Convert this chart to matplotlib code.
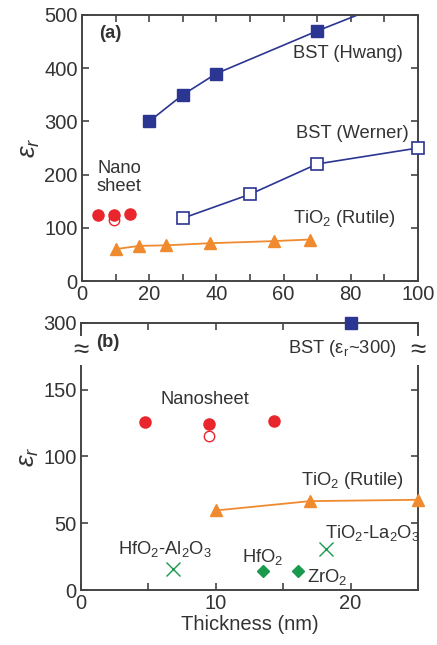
import matplotlib
matplotlib.use("Agg")
import matplotlib.pyplot as plt
from matplotlib.ticker import MultipleLocator, FixedLocator

plt.rcParams['font.family'] = ['Liberation Sans', 'DejaVu Sans']
plt.rcParams['mathtext.fontset'] = 'custom'
plt.rcParams['mathtext.rm'] = 'Liberation Sans'
plt.rcParams['mathtext.it'] = 'Liberation Sans:italic'

# ---- data: panel (a) ----
hwang_x = [20, 30, 40, 70, 100]
hwang_y = [300, 350, 390, 470, 545]
werner_x = [30, 50, 70, 100]
werner_y = [118, 163, 220, 250]
nano_x = [4.7, 9.5, 14.3]
nano_y = [125, 124, 126]
nano_open_x = [9.5]
nano_open_y = [115]
rutile_x = [10, 17, 25, 38, 57, 68]
rutile_y = [60, 66, 67, 71, 75, 78]

# ---- data: panel (b) ----
b_nano_x = [4.75, 9.5, 14.3]
b_nano_y = [125.5, 124.5, 126.5]
b_nano_open_x = [9.5]
b_nano_open_y = [115.5]
b_rutile_x = [10, 17, 25]
b_rutile_y = [59.5, 66.5, 67.5]
cross_x = [6.8, 18.2]
cross_y = [16, 30.5]
diamond_x = [13.5, 16.1]
diamond_y = [14, 14]
bst_b_x = [20]
bst_b_y = [300]

BLUE = '#2b3592'
RED = '#e8262c'
ORANGE = '#f08a2e'
GREEN = '#1a9a4c'
TXT = '#333333'
SP = '#444444'
TS = 14.5   # tick label size
FS = 13.2   # annotation size

fig = plt.figure(figsize=(4.37, 6.45), dpi=100)
ax1 = fig.add_axes([82/437, 1-281/645, 336/437, 266/645])
ax2 = fig.add_axes([81/437, 1-590/645, 337/437, 267.3/645])

for ax in (ax1, ax2):
    for s in ax.spines.values():
        s.set_color(SP)
        s.set_linewidth(1.4)
    ax.tick_params(which='both', direction='in', top=True, right=True,
                   color=SP, width=1.2, labelsize=TS, labelcolor=TXT, pad=3)
    ax.tick_params(which='major', length=5)
    ax.tick_params(which='minor', length=5)

# ---- panel (a) ----
ax1.plot(hwang_x, hwang_y, '-', color=BLUE, lw=1.2, marker='s', ms=8.5,
         mfc=BLUE, mec=BLUE)
ax1.plot(werner_x, werner_y, '-', color=BLUE, lw=1.2, marker='s', ms=8.5,
         mfc='white', mec=BLUE, mew=1.2, clip_on=False, zorder=5)
ax1.plot(rutile_x, rutile_y, '-', color=ORANGE, lw=1.3, marker='^', ms=9,
         mfc=ORANGE, mec=ORANGE)
ax1.plot(nano_x, nano_y, 'o', color=RED, ms=8, mec=RED)
ax1.plot(nano_open_x, nano_open_y, 'o', ms=7.5, mfc='none', mec=RED, mew=1.0)
ax1.set_xlim(0, 100)
ax1.set_ylim(0, 500)
ax1.xaxis.set_major_locator(MultipleLocator(20))
ax1.xaxis.set_minor_locator(MultipleLocator(10))
ax1.yaxis.set_major_locator(MultipleLocator(100))
ax1.set_ylabel(r'$\mathit{\varepsilon}_{\mathit{r}}$', fontsize=19, color=TXT, labelpad=2)

ax1.text(8.3, 466, '(a)', fontsize=FS, fontweight='bold', color=TXT,
         ha='center', va='center')
ax1.text(79, 428, 'BST (Hwang)', fontsize=FS, color=TXT, ha='center', va='center')
ax1.text(80.5, 278, 'BST (Werner)', fontsize=FS, color=TXT, ha='center', va='center')
ax1.text(11, 195, 'Nano\nsheet', fontsize=FS, color=TXT, ha='center', va='center',
         linespacing=1.05)
ax1.text(78, 118, r'TiO$_2$ (Rutile)', fontsize=FS, color=TXT, ha='center', va='center')

# ---- panel (b) ----
ax2.set_xlim(0, 25)
ax2.set_ylim(0, 200)
ax2.xaxis.set_major_locator(FixedLocator([0, 10, 20]))
ax2.xaxis.set_minor_locator(FixedLocator([5, 15, 25]))
ax2.yaxis.set_major_locator(FixedLocator([0, 50, 100, 150, 200]))
ax2.set_yticklabels(['0', '50', '100', '150', '300'])
ax2.plot(b_nano_x, b_nano_y, 'o', color=RED, ms=8, mec=RED)
ax2.plot(b_nano_open_x, b_nano_open_y, 'o', ms=7.5, mfc='none', mec=RED, mew=1.0)
ax2.plot(b_rutile_x, b_rutile_y, '-', color=ORANGE, lw=1.3, marker='^', ms=9,
         mfc=ORANGE, mec=ORANGE, clip_on=False, zorder=5)
ax2.plot(cross_x, cross_y, 'x', color=GREEN, ms=10, mew=1.0)
ax2.plot(diamond_x, diamond_y, 'D', color=GREEN, ms=6)
# BST point shown on the broken axis top (300 mapped to axis top)
ax2.plot(bst_b_x, [200 for _ in bst_b_y], 's', color=BLUE, ms=8.5, clip_on=False, zorder=6)

ax2.set_ylabel(r'$\mathit{\varepsilon}_{\mathit{r}}$', fontsize=19, color=TXT, labelpad=2)
ax2.set_xlabel('Thickness (nm)', fontsize=14.5, color=TXT, labelpad=1)

ax2.text(2.0, 185, '(b)', fontsize=FS, fontweight='bold', color=TXT,
         ha='center', va='center')
ax2.text(19.4, 181, r'BST ($\mathrm{\varepsilon}_{\mathrm{r}}$~300)', fontsize=FS, color=TXT,
         ha='center', va='center')
ax2.text(9.2, 142.5, 'Nanosheet', fontsize=FS, color=TXT, ha='center', va='center')
ax2.text(20.1, 82, r'TiO$_2$ (Rutile)', fontsize=FS, color=TXT, ha='center', va='center')
ax2.text(21.6, 42.5, r'TiO$_2$-La$_2$O$_3$', fontsize=FS, color=TXT, ha='center', va='center')
ax2.text(6.2, 31, r'HfO$_2$-Al$_2$O$_3$', fontsize=FS, color=TXT, ha='center', va='center')
ax2.text(13.5, 24.5, r'HfO$_2$', fontsize=FS, color=TXT, ha='center', va='center')
ax2.text(18.3, 10, r'ZrO$_2$', fontsize=FS, color=TXT, ha='center', va='center')

# broken-axis marks
for xx in (0, 25):
    ax2.text(xx, 179, '≈', fontsize=20, color=TXT, ha='center', va='center',
             rotation=0, clip_on=False, zorder=10,
             bbox=dict(boxstyle='square,pad=0.05', fc='white', ec='none'))

fig.savefig('out.png', dpi=100)
